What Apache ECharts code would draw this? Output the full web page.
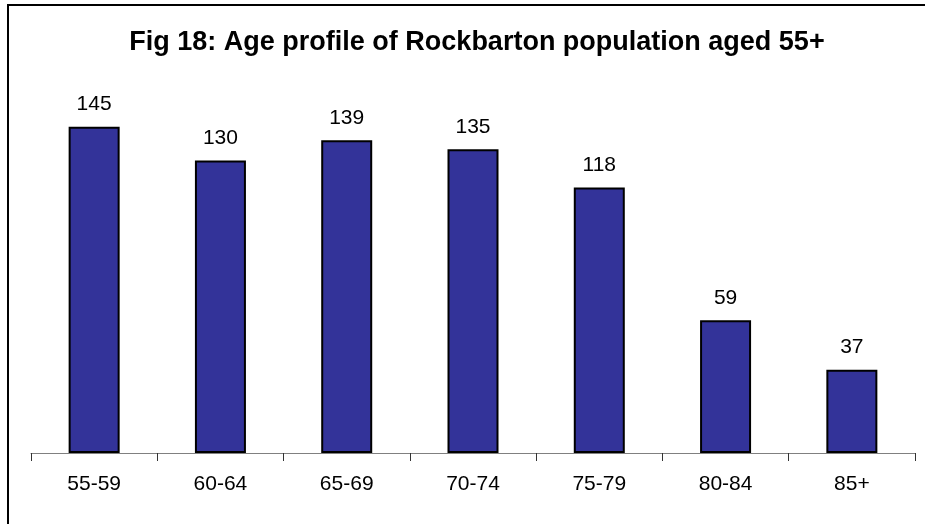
<!DOCTYPE html>
<html>
<head>
<meta charset="utf-8">
<title>Fig 18</title>
<script src="https://cdn.jsdelivr.net/npm/echarts@6/dist/echarts.min.js"></script>
<style>
  html, body { margin: 0; padding: 0; background: #fff; }
  #chart { width: 925px; height: 524px; }
</style>
</head>
<body>
<div id="chart"></div>
<script>
// age bands and counts
var ageBands = ['55-59', '60-64', '65-69', '70-74', '75-79', '80-84', '85+']
var population = [145, 130, 139, 135, 118, 59, 37]
var titleText = 'Fig 18: Age profile of Rockbarton population aged 55+'

var chart = echarts.init(document.getElementById('chart'))
chart.setOption({
  animation: false,
  backgroundColor: '#fff',
  textStyle: { fontFamily: 'Liberation Sans, Arial, sans-serif' },
  title: {
    text: titleText,
    left: 472,
    top: 24,
    textAlign: 'center',
    textStyle: {
      fontFamily: 'Liberation Sans, Arial, sans-serif',
      fontSize: 27,
      fontWeight: 'bold',
      color: '#000'
    }
  },
  // outer frame (only top and left edges show in the reference)
  graphic: [{
    type: 'rect',
    shape: { x: 8, y: 5, width: 960, height: 560 },
    style: { fill: 'none', stroke: '#000', lineWidth: 2 },
    silent: true
  }],
  grid: { left: 31, right: 10, top: 93, bottom: 71 },
  xAxis: {
    type: 'category',
    data: ageBands,
    axisLine: { lineStyle: { color: '#808080', width: 1 } },
    axisTick: { show: true, length: 8, lineStyle: { color: '#333' } },
    axisLabel: { color: '#000', fontSize: 21, margin: 21 }
  },
  yAxis: {
    type: 'value',
    min: 0,
    max: 160,
    show: false,
    splitLine: { show: false }
  },
  series: [{
    type: 'bar',
    data: population,
    barWidth: 51,
    itemStyle: { color: '#333399', borderColor: '#000', borderWidth: 2 },
    label: {
      show: true,
      position: 'top',
      distance: 12,
      color: '#000',
      fontSize: 21
    }
  }]
})
</script>
</body>
</html>
